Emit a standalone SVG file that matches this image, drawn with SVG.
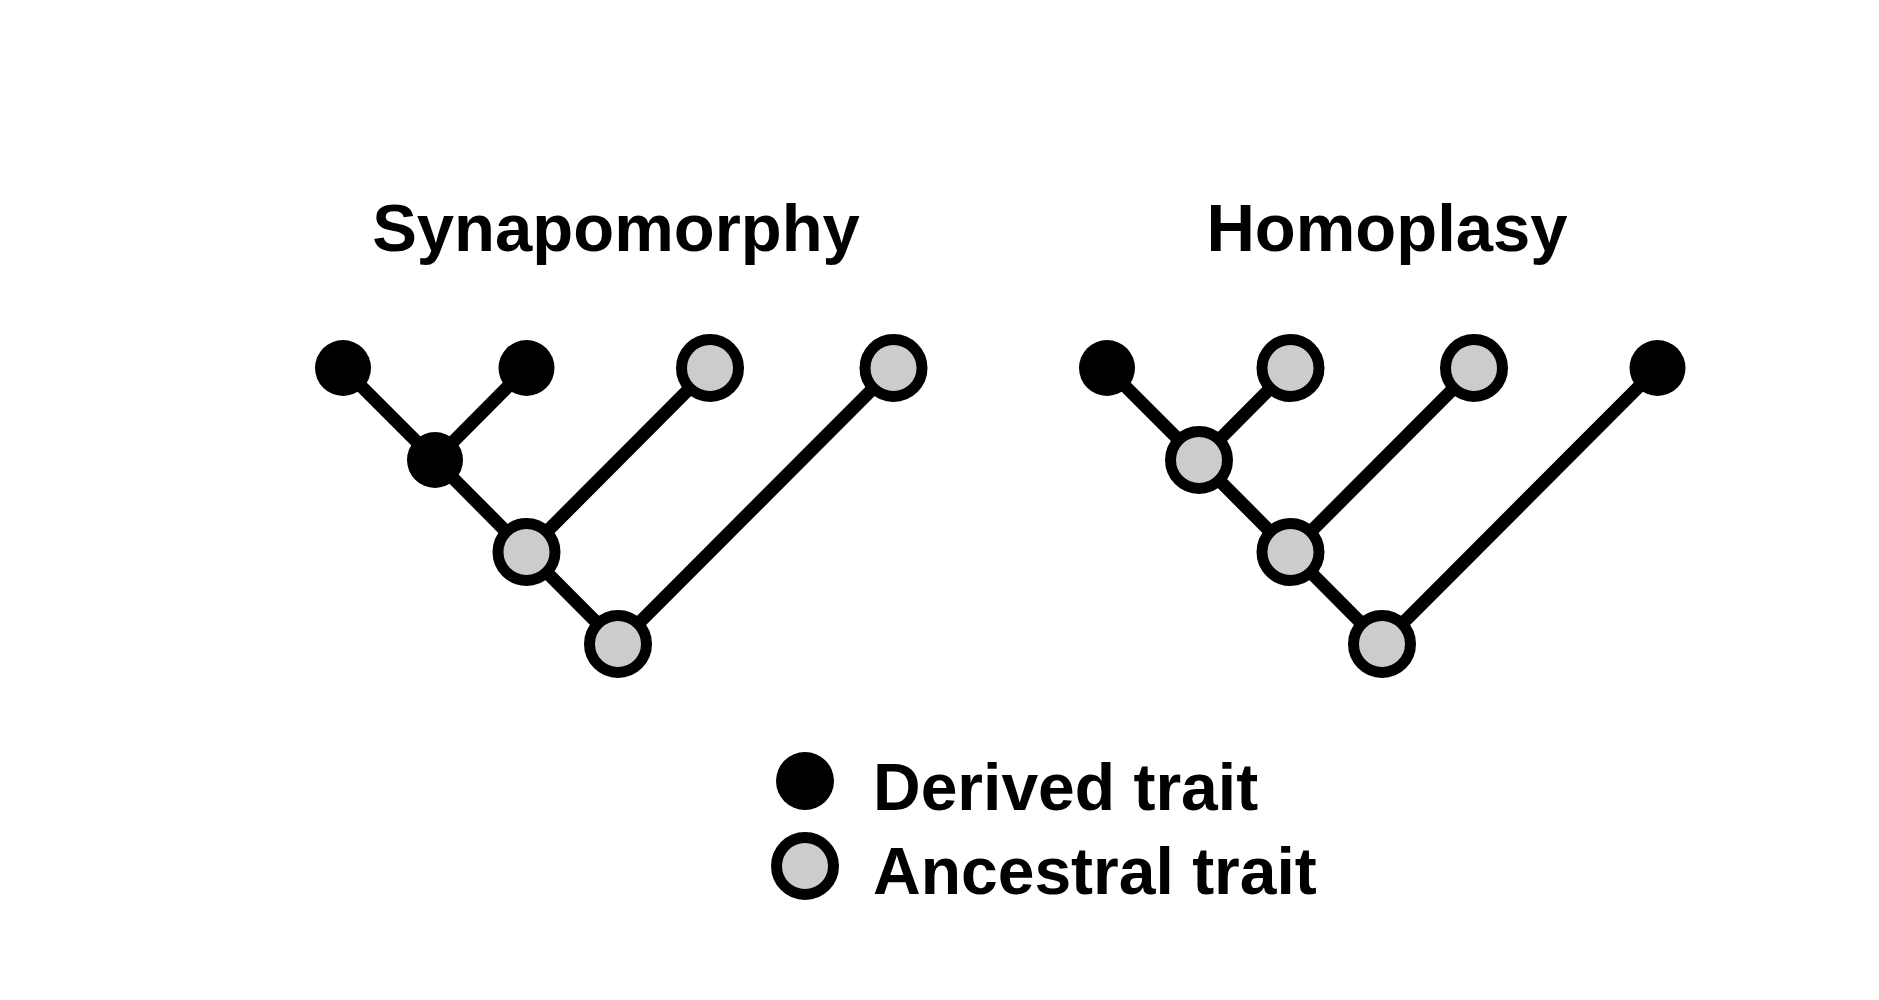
<svg xmlns="http://www.w3.org/2000/svg" width="1879" height="1000" viewBox="0 0 1879 1000">
<style>
.title{font-family:"Liberation Sans",Arial,sans-serif;font-weight:bold;font-size:67px;fill:#000;text-anchor:middle}
.leg{font-family:"Liberation Sans",Arial,sans-serif;font-weight:bold;font-size:66px;fill:#000}
.edge{stroke:#000;stroke-width:13;fill:none}
.der{fill:#000}
.anc{fill:#cbcccd;stroke:#000;stroke-width:11}
</style>
<rect width="1879" height="1000" fill="#fff"/>
<text class="title" x="616" y="251">Synapomorphy</text>
<text class="title" x="1387" y="251">Homoplasy</text>
<g id="connectors">
<path class="edge" d="M343 368 L435 460 L526.5 552 L618 644"/>
<path class="edge" d="M526.5 368 L435 460"/>
<path class="edge" d="M710 368 L526.5 552"/>
<path class="edge" d="M893.5 368 L618 644"/>
<path class="edge" d="M1107 368 L1199 460 L1290.5 552 L1382 644"/>
<path class="edge" d="M1290.5 368 L1199 460"/>
<path class="edge" d="M1474 368 L1290.5 552"/>
<path class="edge" d="M1657.5 368 L1382 644"/>
</g>
<g id="syn-leaf1"><circle class="der" cx="343" cy="368" r="28"/></g>
<g id="syn-leaf2"><circle class="der" cx="526.5" cy="368" r="28"/></g>
<g id="syn-leaf3"><circle class="anc" cx="710" cy="368" r="28.5"/></g>
<g id="syn-leaf4"><circle class="anc" cx="893.5" cy="368" r="28.5"/></g>
<g id="syn-int1"><circle class="der" cx="435" cy="460" r="28"/></g>
<g id="syn-int2"><circle class="anc" cx="526.5" cy="552" r="28.5"/></g>
<g id="syn-root"><circle class="anc" cx="618" cy="644" r="28.5"/></g>
<g id="hom-leaf1"><circle class="der" cx="1107" cy="368" r="28"/></g>
<g id="hom-leaf2"><circle class="anc" cx="1290.5" cy="368" r="28.5"/></g>
<g id="hom-leaf3"><circle class="anc" cx="1474" cy="368" r="28.5"/></g>
<g id="hom-leaf4"><circle class="der" cx="1657.5" cy="368" r="28"/></g>
<g id="hom-int1"><circle class="anc" cx="1199" cy="460" r="28.5"/></g>
<g id="hom-int2"><circle class="anc" cx="1290.5" cy="552" r="28.5"/></g>
<g id="hom-root"><circle class="anc" cx="1382" cy="644" r="28.5"/></g>
<g id="legend-derived"><circle class="der" cx="805" cy="781" r="29"/><text class="leg" x="873" y="810">Derived trait</text></g>
<g id="legend-ancestral"><circle class="anc" cx="805" cy="866" r="28.5"/><text class="leg" x="873" y="894">Ancestral trait</text></g>
</svg>
